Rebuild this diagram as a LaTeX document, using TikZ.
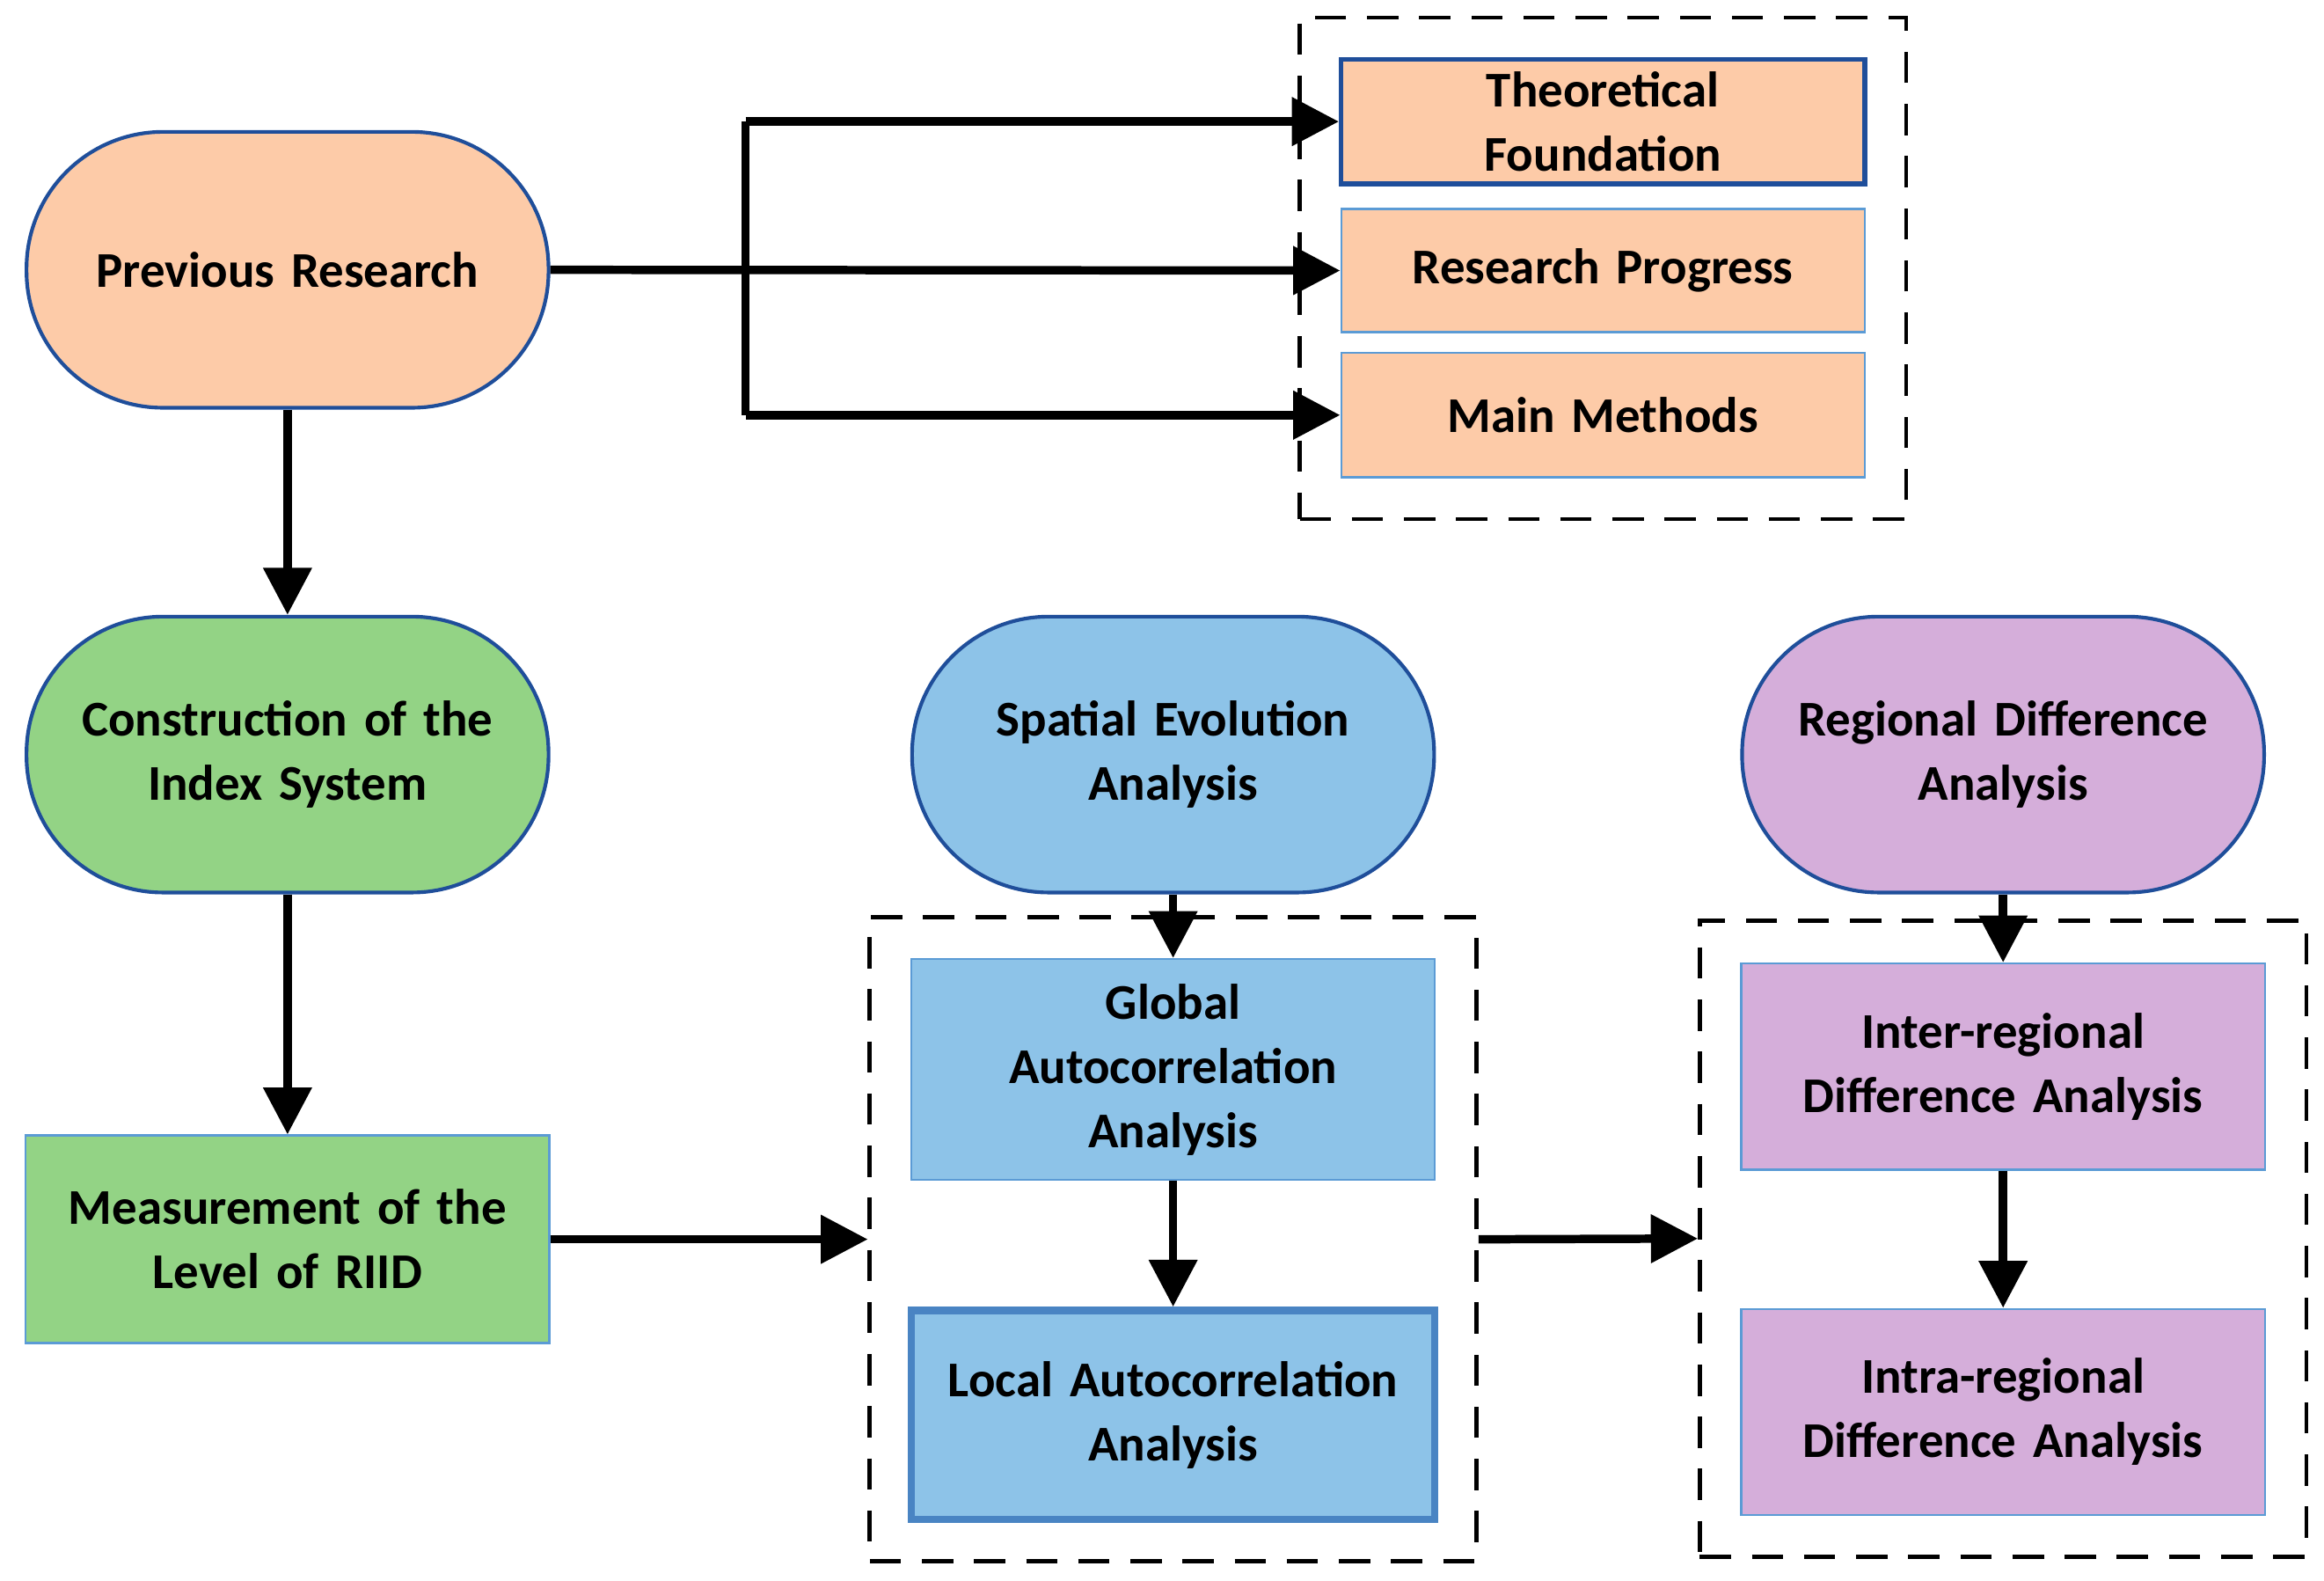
\documentclass[tikz,border=0pt]{standalone}
\usepackage{fontspec}
\setmainfont{Carlito}
\usetikzlibrary{arrows.meta}
\definecolor{peach}{HTML}{FDCBA8}
\definecolor{grn}{HTML}{93D385}
\definecolor{blu}{HTML}{8DC3E8}
\definecolor{pur}{HTML}{D5AEDA}
\definecolor{dkb}{HTML}{1F4E9A}
\definecolor{ltb}{HTML}{5B9BD5}
\begin{document}
\begin{tikzpicture}[x=0.01cm,y=-0.01cm,
  base/.style={align=center,font=\fontsize{9.6}{12.3}\selectfont\bfseries,inner sep=0pt},
  stad/.style={base,draw=dkb,line width=0.7pt,rounded corners=0.92cm,minimum width=3.52cm,minimum height=1.86cm,text width=3.3cm},
  box/.style={base,draw=ltb,line width=0.4pt,minimum width=3.53cm,text width=3.4cm},
  dgrp/.style={draw,line width=0.8pt,dash pattern=on 6pt off 4pt},
  arr/.style={line width=1.6pt,-{Triangle[length=9pt,width=9pt]}}]
\useasboundingbox (0,0) rectangle (1568,1066);
% top group
\node[dgrp,minimum width=4.09cm,minimum height=3.38cm] (d1) at (1081.5,181) {};
\node[stad,fill=peach] (pr) at (194,182) {Previous Research};
\node[box,fill=peach,draw=dkb,line width=0.9pt,minimum height=0.84cm] (tf) at (1081.5,82) {Theoretical\\Foundation};
\node[box,fill=peach,minimum height=0.83cm] (rp) at (1081.5,182.5) {Research Progress};
\node[box,fill=peach,minimum height=0.84cm] (mm) at (1081.5,280) {Main Methods};
\coordinate (jt) at (503,82);
\coordinate (jb) at (503,280);
\draw[arr] (pr.east) -- (rp.west);
\draw[line width=1.6pt] (jb) -- (jt);
\draw[arr] (jt) -- (tf.west);
\draw[arr] (jb) -- (mm.west);
% left column
\node[stad,fill=grn] (ci) at (194,509) {Construction of the\\Index System};
\node[box,fill=grn,minimum height=1.40cm] (ml) at (194,836) {Measurement of the\\Level of RIID};
\draw[arr] (pr.south) -- (ci.north);
\draw[arr] (ci.south) -- (ml.north);
% middle
\node[dgrp,minimum width=4.09cm,minimum height=4.34cm] (d2) at (791.5,836) {};
\node[stad,fill=blu] (se) at (791.5,509) {Spatial Evolution\\Analysis};
\node[box,fill=blu,minimum height=1.49cm] (ga) at (791.5,721.5) {Global\\Autocorrelation\\Analysis};
\node[box,fill=blu,draw=ltb!70!dkb,line width=1.4pt,minimum height=1.41cm] (la) at (791.5,954.5) {Local Autocorrelation\\Analysis};
\draw[arr] (se.south) -- (ga.north);
\draw[arr] (ga.south) -- (la.north);
\draw[arr] (ml.east) -- (d2.west);
% right
\node[dgrp,minimum width=4.09cm,minimum height=4.29cm] (d3) at (1351.5,835.5) {};
\node[stad,fill=pur] (rd) at (1351.5,509) {Regional Difference\\Analysis};
\node[box,fill=pur,minimum height=1.39cm] (ir) at (1351.5,719.5) {Inter-regional\\Difference Analysis};
\node[box,fill=pur,minimum height=1.39cm] (ar) at (1351.5,952.5) {Intra-regional\\Difference Analysis};
\draw[arr] (rd.south) -- (ir.north);
\draw[arr] (ir.south) -- (ar.north);
\draw[arr] (d2.east) -- (d3.west);
\end{tikzpicture}
\end{document}
